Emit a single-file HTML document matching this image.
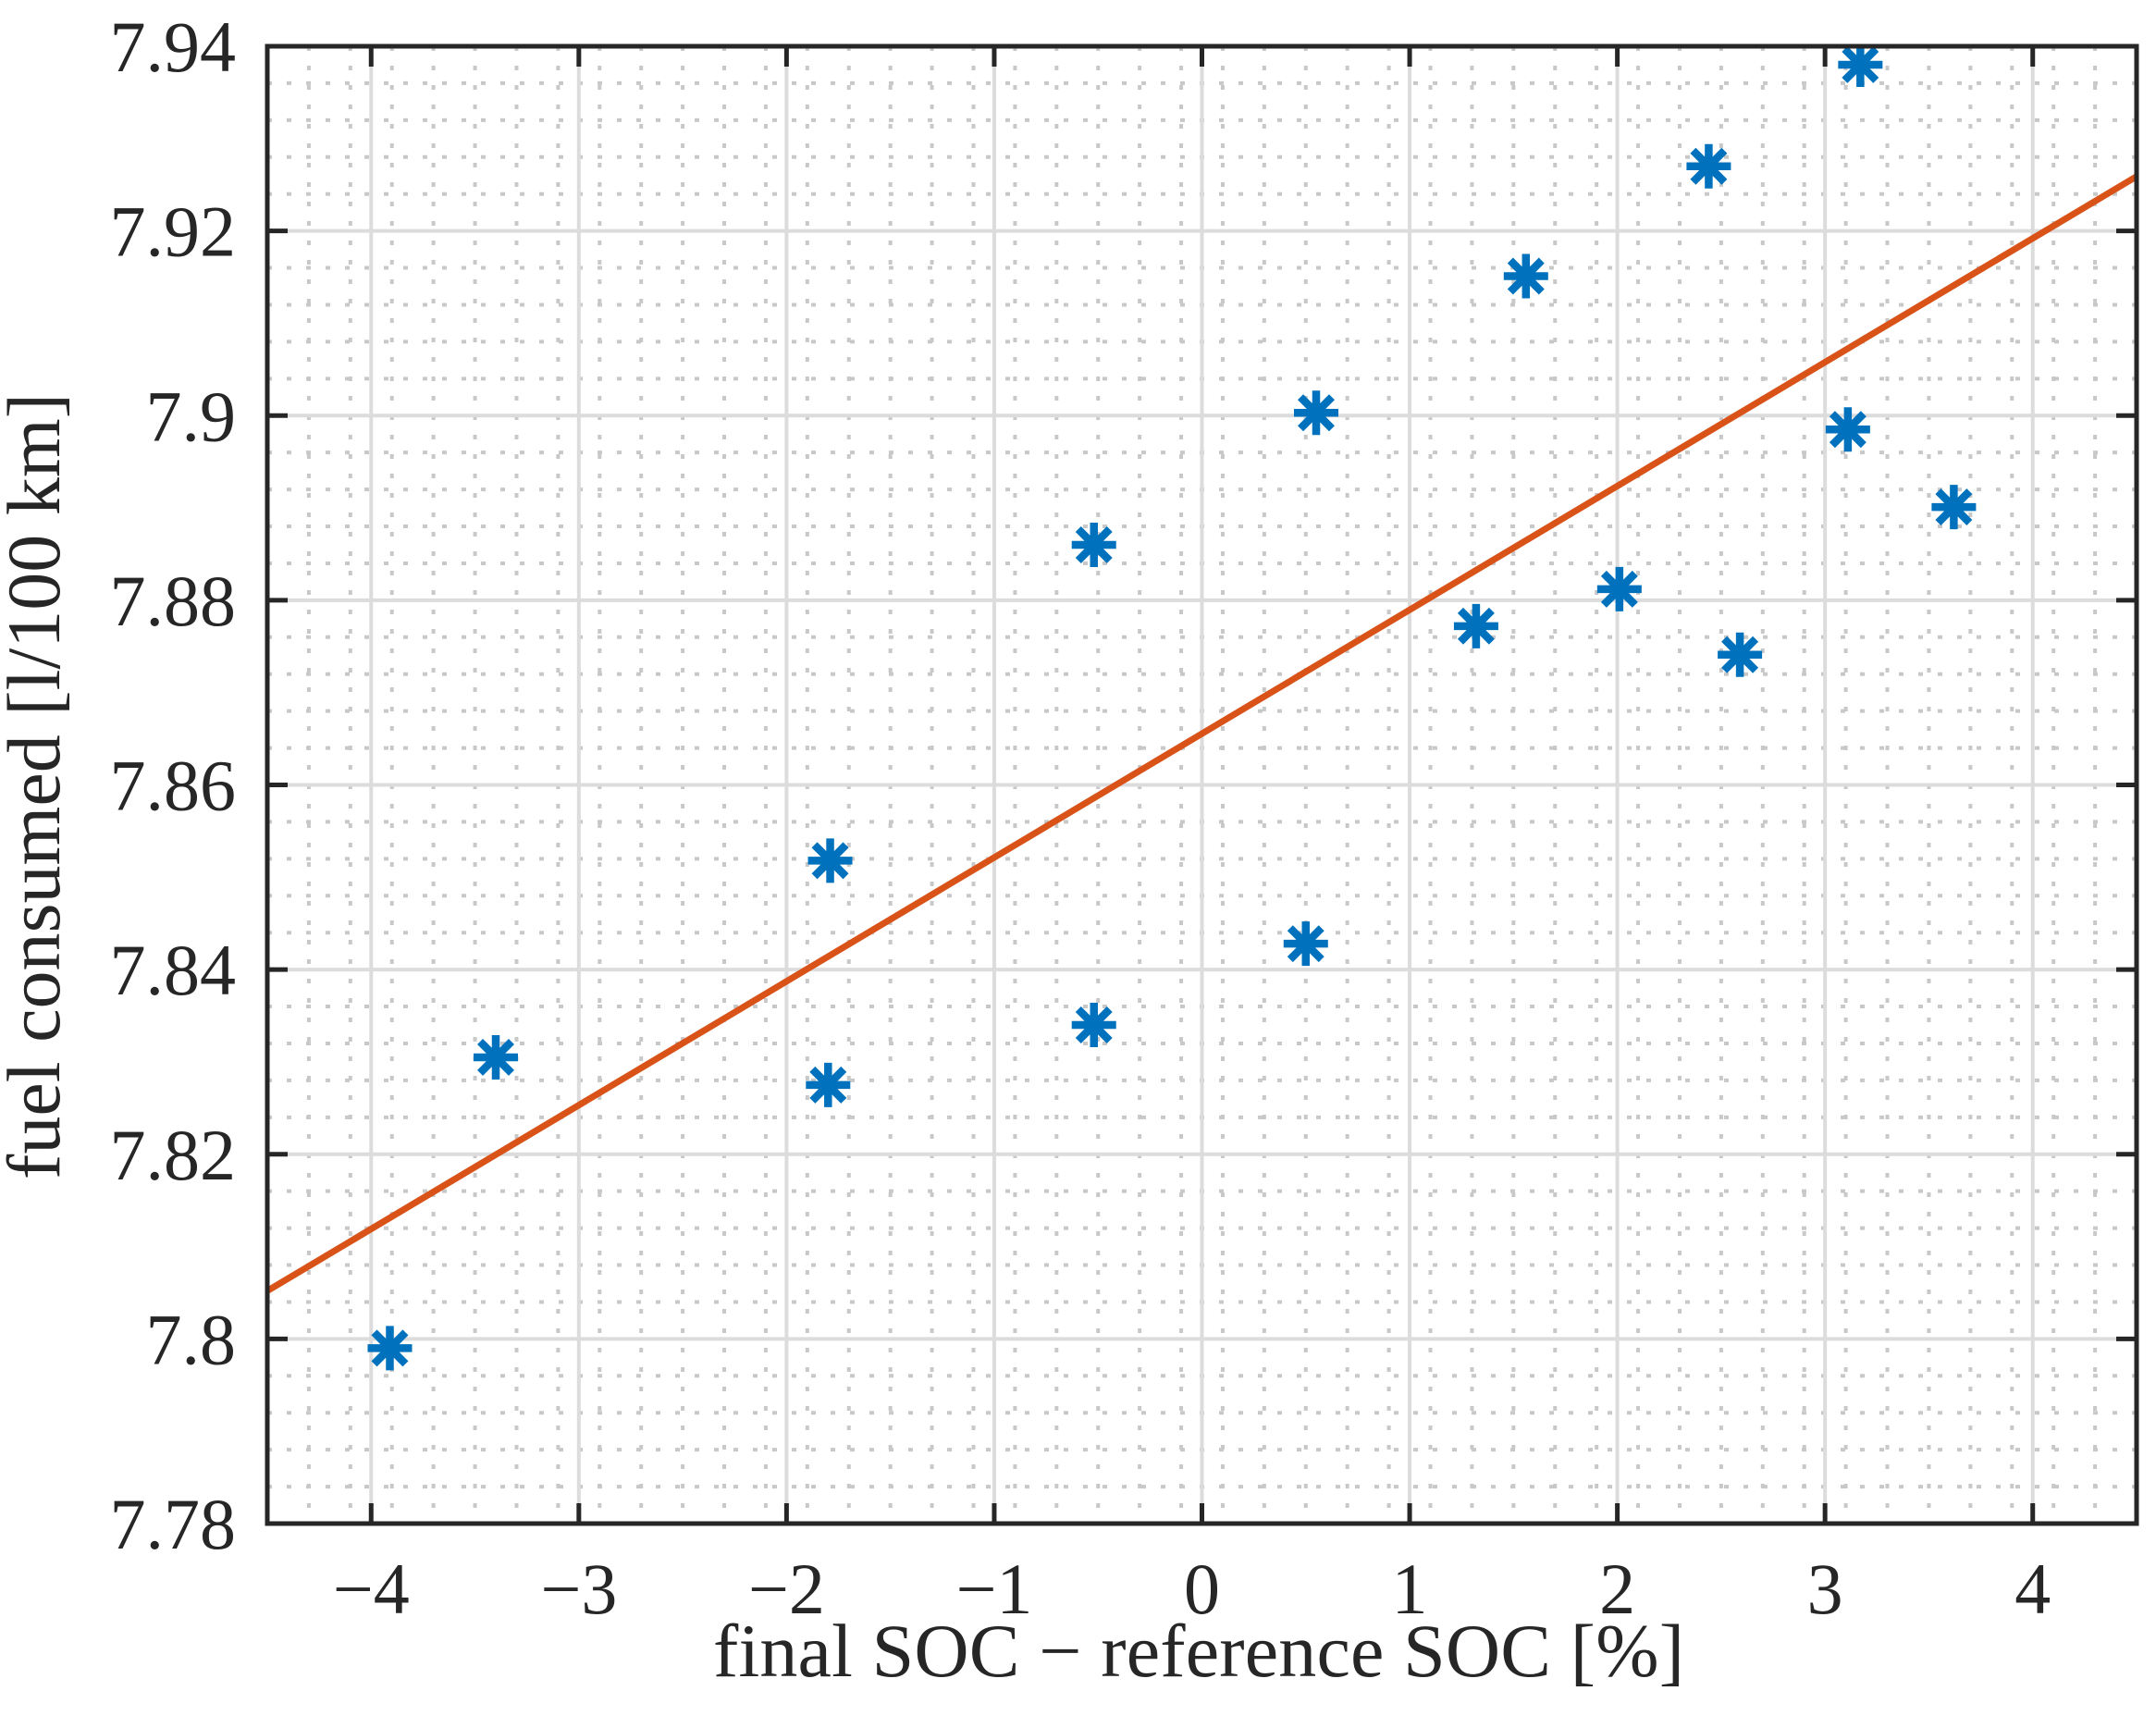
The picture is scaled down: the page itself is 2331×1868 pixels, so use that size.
<!DOCTYPE html>
<html><head><meta charset="utf-8"><style>
html,body{margin:0;padding:0;background:#fff;}
svg{display:block;}
text{font-family:"Liberation Serif",serif;fill:#262626;}
</style></head><body>
<svg id="chart" width="2331" height="1868" viewBox="0 0 2331 1868" xmlns="http://www.w3.org/2000/svg">
<defs><clipPath id="clip"><rect x="289" y="50" width="2021" height="1597"/></clipPath></defs>
<rect x="0" y="0" width="2331" height="1868" fill="#fff"/>
<g id="grid"></g>
<g id="marks" clip-path="url(#clip)"></g>
<g id="axes"></g>
<text x="1296" y="1812" font-size="82" text-anchor="middle" textLength="1050">final SOC − reference SOC [%]</text>
<text transform="translate(64,850) rotate(-90)" font-size="82" text-anchor="middle" textLength="850">fuel consumed [l/100 km]</text>
</svg>
<script>
const xTicks = [-4,-3,-2,-1,0,1,2,3,4];
const xTickLabels = ["−4","−3","−2","−1","0","1","2","3","4"];
const yTicks = [7.78,7.8,7.82,7.84,7.86,7.88,7.9,7.92,7.94];
const yTickLabels = ["7.78","7.8","7.82","7.84","7.86","7.88","7.9","7.92","7.94"];
const socDiff = [-3.91,-3.40,-1.79,-1.80,-0.52,-0.52,0.50,0.55,1.32,1.56,2.01,2.44,2.59,3.11,3.17,3.62];
const fuel = [7.799,7.8305,7.8518,7.8275,7.886,7.834,7.8428,7.9003,7.8772,7.9151,7.8812,7.927,7.8741,7.8985,7.938,7.8901];
const fitX = [-4.5,4.5];
const fitY = [7.8052,7.9259];

const L=289,R=2310,T=50,B=1647, xMin=-4.5,xMax=4.5,yMin=7.78,yMax=7.94;
const sx=v=>L+(v-xMin)/(xMax-xMin)*(R-L);
const sy=v=>B-(v-yMin)/(yMax-yMin)*(B-T);
const NS="http://www.w3.org/2000/svg";
function mk(tag,attrs,parent){const e=document.createElementNS(NS,tag);for(const k in attrs)e.setAttribute(k,attrs[k]);parent.appendChild(e);return e;}
const grid=document.getElementById('grid'),marks=document.getElementById('marks'),axes=document.getElementById('axes');

for(let i=0;i<=45;i++){const v=xMin+i*0.2; if(Math.abs(v-Math.round(v))<1e-6) continue;
  const l=mk('line',{x1:sx(v),x2:sx(v),y1:T,y2:B,stroke:'#c8c8c8','stroke-width':4,'stroke-dasharray':'5 16'},grid);
  
  }
for(let i=0;i<=40;i++){const v=yMin+i*0.004; if(Math.abs(v*50-Math.round(v*50))<1e-6) continue;
  const l=mk('line',{x1:L,x2:R,y1:sy(v),y2:sy(v),stroke:'#c8c8c8','stroke-width':4,'stroke-dasharray':'5 16'},grid);
  
  }
xTicks.forEach((v,i)=>{
  const g=mk('line',{x1:sx(v),x2:sx(v),y1:T,y2:B,stroke:'#dcdcdc','stroke-width':4},grid);
  
  
  const t1=mk('line',{x1:sx(v),x2:sx(v),y1:B,y2:B-22,stroke:'#262626','stroke-width':5},axes);
  
  
  const t2=mk('line',{x1:sx(v),x2:sx(v),y1:T,y2:T+22,stroke:'#262626','stroke-width':5},axes);
  
  
  const tx=mk('text',{x:sx(v),y:1744,'font-size':78,'text-anchor':'middle'},axes);
  tx.textContent=xTickLabels[i];
  
  
});
yTicks.forEach((v,i)=>{
  const g=mk('line',{x1:L,x2:R,y1:sy(v),y2:sy(v),stroke:'#dcdcdc','stroke-width':4},grid);
  
  
  const t1=mk('line',{x1:L,x2:L+22,y1:sy(v),y2:sy(v),stroke:'#262626','stroke-width':5},axes);
  
  
  const t2=mk('line',{x1:R,x2:R-22,y1:sy(v),y2:sy(v),stroke:'#262626','stroke-width':5},axes);
  
  
  const tx=mk('text',{x:255,y:sy(v)+27,'font-size':78,'text-anchor':'end'},axes);
  tx.textContent=yTickLabels[i];
  
  
});
const box=mk('rect',{x:L,y:T,width:R-L,height:B-T,fill:'none',stroke:'#262626','stroke-width':5},axes);



const fl=mk('line',{x1:sx(fitX[0]),y1:sy(fitY[0]),x2:sx(fitX[1]),y2:sy(fitY[1]),stroke:'#D95319','stroke-width':7},marks);



socDiff.forEach((xv,i)=>{
  const cx=sx(xv),cy=sy(fuel[i]),r=24,d=r*0.707;
  const p=mk('path',{d:`M${cx-r},${cy}H${cx+r}M${cx},${cy-r}V${cy+r}M${cx-d},${cy-d}L${cx+d},${cy+d}M${cx-d},${cy+d}L${cx+d},${cy-d}`,stroke:'#0072BD','stroke-width':8.5,fill:'none'},marks);
  
  
});
</script>
</body></html>
